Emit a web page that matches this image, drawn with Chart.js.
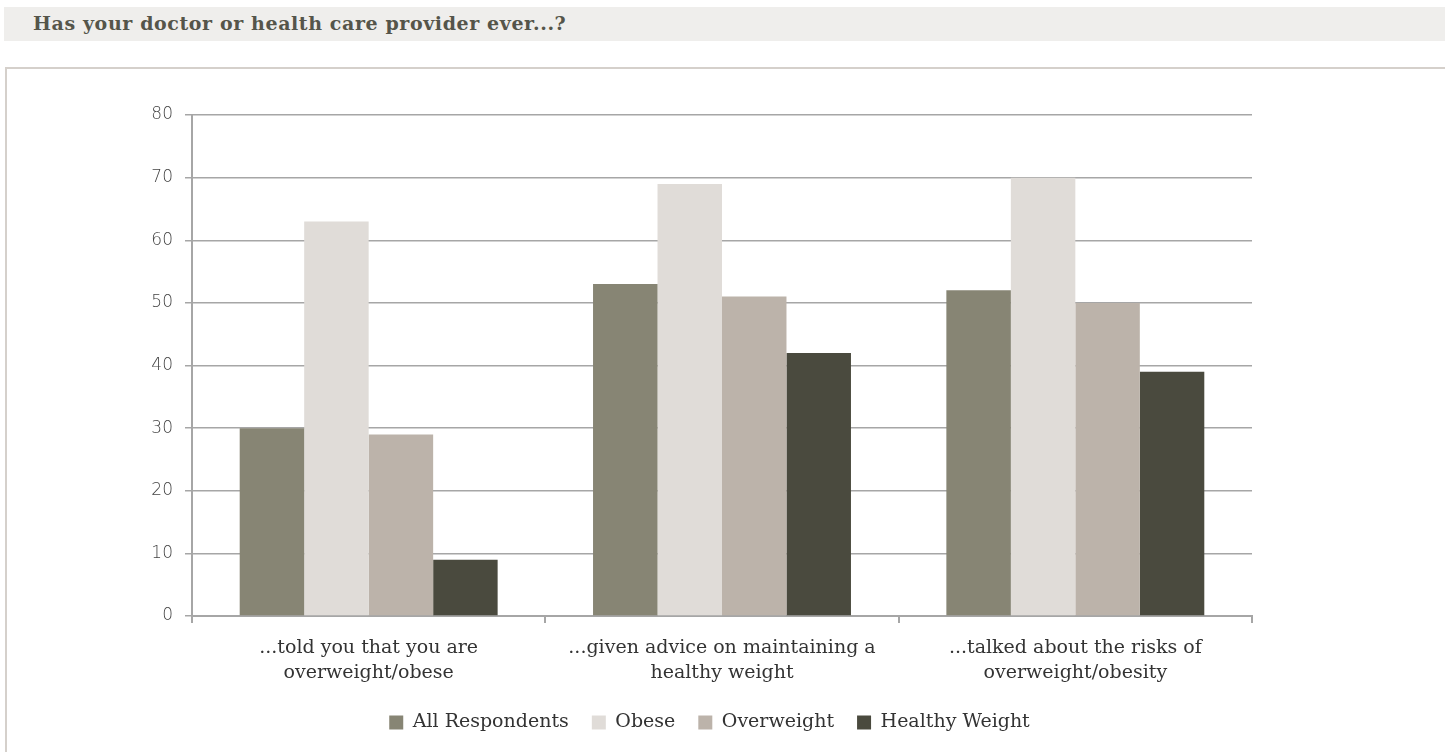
<!DOCTYPE html>
<html><head><meta charset="utf-8">
<script src="https://cdn.jsdelivr.net/npm/chart.js@4/dist/chart.umd.min.js"></script>
<style>
html,body{margin:0;padding:0;background:#fff;width:1445px;height:752px;overflow:hidden;}
#hdr{position:absolute;left:4px;top:7px;width:1441px;height:34px;background:#efeeec;}
#hdr span{position:absolute;left:29px;top:5px;font-family:"DejaVu Serif",serif;font-weight:bold;font-size:19px;color:#55554a;letter-spacing:0.6px;}
#box{position:absolute;left:5px;top:67px;width:1440px;height:685px;border-left:2px solid #d5d0cb;border-top:2px solid #d5d0cb;}
#wrap{position:absolute;left:7px;top:70px;width:1438px;height:682px;}
</style></head><body>
<div id="hdr"><span>Has your doctor or health care provider ever...?</span></div>
<div id="box"></div>
<div id="wrap"><canvas id="c" width="1438" height="682"></canvas></div>
<script>
const categories = [["...told you that you are","overweight/obese"],["...given advice on maintaining a","healthy weight"],["...talked about the risks of","overweight/obesity"]];
const seriesNames = ["All Respondents","Obese","Overweight","Healthy Weight"];
const allRespondents = [30,53,52];
const obese = [63,69,70];
const overweight = [29,51,50];
const healthyWeight = [9,42,39];
const yTicks = [0,10,20,30,40,50,60,70,80];
const colors = ["#878574","#e0dcd8","#bcb3aa","#4a4a3e"];
const values = [allRespondents, obese, overweight, healthyWeight];

const shiftLegend = {
  id:'shiftLegend',
  afterLayout(chart){
    const lg = chart.legend;
    if (lg) { lg.left += 80; lg.right += 80; }
  }
};

new Chart(document.getElementById('c'), {
  type:'bar',
  data:{labels:categories, datasets: seriesNames.map((n,i)=>({label:n,data:values[i],backgroundColor:colors[i],borderWidth:0,categoryPercentage:0.73,barPercentage:1.0}))},
  plugins:[shiftLegend],
  options:{
    responsive:false, animation:false,
    layout:{padding:{left:0,right:193,top:45,bottom:10}},
    plugins:{
      tooltip:{enabled:false},
      legend:{position:'bottom',labels:{boxWidth:14,boxHeight:14,padding:23,color:'#333',font:{family:'"DejaVu Serif", serif',size:19,weight:'normal'}}}
    },
    scales:{
      x:{
        grid:{display:true,drawOnChartArea:false,drawTicks:true,tickLength:7,color:'#a6a6a6',lineWidth:2,offset:true},
        border:{color:'#a6a6a6',width:2},
        ticks:{color:'#333',font:{family:'"DejaVu Serif", serif',size:19,lineHeight:1.35},padding:12,maxRotation:0,autoSkip:false},
        afterFit:(s)=>{s.height=74;}
      },
      y:{
        min:0,max:80,
        afterBuildTicks:(s)=>{s.ticks=yTicks.map(v=>({value:v}));},
        grid:{color:'#a6a6a6',lineWidth:1.5,tickLength:7,drawTicks:true},
        border:{color:'#a6a6a6',width:2},
        ticks:{color:'#444',font:{family:'"DejaVu Sans", sans-serif',size:17,weight:'300'},padding:12},
        afterFit:(s)=>{s.width=185;}
      }
    }
  }
});
</script>
</body></html>
